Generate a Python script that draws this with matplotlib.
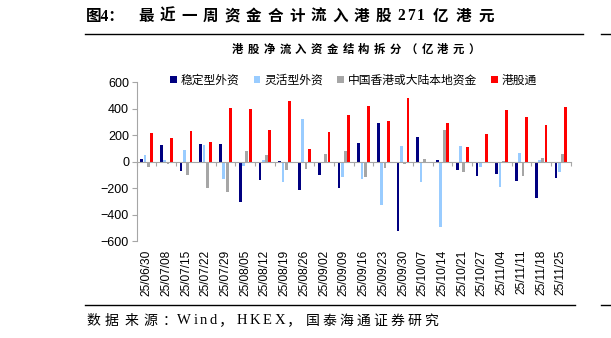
import numpy as np
import matplotlib.pyplot as plt
from matplotlib.lines import Line2D

plt.rcParams['font.family'] = ['Liberation Sans', 'Noto Sans CJK SC']

# 每周港股净流入资金（亿港元）
weeks = ['25/06/30', '25/07/08', '25/07/15', '25/07/22', '25/07/29', '25/08/05',
         '25/08/12', '25/08/19', '25/08/26', '25/09/02', '25/09/09', '25/09/16',
         '25/09/23', '25/09/30', '25/10/07', '25/10/14', '25/10/21', '25/10/27',
         '25/11/04', '25/11/11', '25/11/18', '25/11/25']
stable_foreign = [23, 129, -71, 132, 137, -304, -142, 8, -215, -101, -200, 142,
                  293, -521, 187, 13, -63, -111, -96, -144, -273, -126]
flexible_foreign = [48, 15, 86, 127, -134, -33, 13, -157, 319, -3, -114, -134,
                    -331, 121, -152, -496, 116, -43, -195, 66, 10, -78]
local_funds = [-38, -20, -104, -197, -230, 78, 53, -66, -58, 56, 83, -119,
               -51, -18, 20, 243, -76, -2, 8, -111, 30, 58]
southbound = [218, 182, 228, 152, 402, 400, 240, 455, 96, 223, 349, 420,
              304, 481, 0, 293, 111, 207, 387, 334, 276, 417]

series_names = ['稳定型外资', '灵活型外资', '中国香港或大陆本地资金', '港股通']
series_colors = ['#000080', '#99CCFF', '#A6A6A6', '#FF0000']

W, H = 611, 338
fig = plt.figure(figsize=(W / 100, H / 100), dpi=100)
ax = fig.add_axes([136.7 / W, (H - 241) / H, 434 / W, 158.7 / H])

x = np.arange(len(weeks))
step, width = 0.167, 0.14
all_series = [stable_foreign, flexible_foreign, local_funds, southbound]
for k, vals in enumerate(all_series):
    ax.bar(x + (k - 1.5) * step, vals, width, color=series_colors[k],
           label=series_names[k])

ax.set_xlim(-0.5, len(weeks) - 0.5)
ax.set_ylim(-600, 600)
ax.set_yticks(range(-600, 601, 200))

# 坐标轴样式
axis_gray = '#A6A6A6'
for side in ['top', 'right']:
    ax.spines[side].set_visible(False)
ax.spines['left'].set_color(axis_gray)
ax.spines['bottom'].set_color(axis_gray)
ax.spines['bottom'].set_position(('data', 0))
ax.tick_params(axis='y', direction='out', length=3.5, width=0.8,
               color=axis_gray, labelsize=9, pad=2)
ax.set_xticks(np.arange(-0.5, len(weeks), 1), minor=True)
ax.tick_params(axis='x', which='major', length=0, labelbottom=False)
ax.tick_params(axis='x', which='minor', direction='out', length=3,
               width=0.8, color=axis_gray)

# 日期标签放在图底部
sec = ax.secondary_xaxis('bottom')
sec.set_xticks(x, weeks)
sec.tick_params(length=0, pad=6, labelrotation=90, labelsize=8.6)
sec.spines['bottom'].set_visible(False)

ax.legend(loc='center', bbox_to_anchor=(0.5, 1.0145), ncol=4, frameon=False,
          prop={'family': 'Noto Sans CJK SC', 'size': 8.5},
          handlelength=0.55, handleheight=0.55, handletextpad=0.35,
          columnspacing=1.2, borderaxespad=0)

serif_cjk = ['Liberation Serif', 'Noto Sans CJK SC']


def spread_text(s, x0, x1, baseline, size, weight='normal'):
    # 逐字排版，把一段文字均匀铺满 x0 到 x1（像素）
    r = fig.canvas.get_renderer()
    texts = [fig.text(0, 1 - baseline / H, ch, ha='left', va='baseline',
                      fontsize=size, fontweight=weight, family=serif_cjk)
             for ch in s]
    widths = [t.get_window_extent(r).width for t in texts]
    gap = (x1 - x0 - sum(widths)) / (len(s) - 1) if len(s) > 1 else 0
    pos = x0
    for t, w in zip(texts, widths):
        t.set_x(pos / W)
        pos += w + gap


# 标题
fig.text(86 / W, 1 - 20.5 / H, '图4：', ha='left', va='baseline',
         fontsize=11.2, fontweight='bold', family=serif_cjk)
spread_text('最近一周资金合计流入港股', 138, 391, 20.5, 11.2, 'bold')
spread_text('271', 397, 425, 20.5, 11.2, 'bold')
spread_text('亿港元', 433, 494, 20.5, 11.2, 'bold')

# 副标题
spread_text('港股净流入资金结构拆分（亿港元）', 232, 480, 53, 8.2, 'bold')

# 数据来源
spread_text('数据来源：', 86, 176, 324.5, 10)
spread_text('Wind，HKEX，', 177, 302, 324.5, 10.5)
spread_text('国泰海通证券研究', 306, 438, 324.5, 10)

fig.add_artist(Line2D([85 / W, 583 / W], [1 - 34.3 / H] * 2, color='black', lw=1.0))
fig.add_artist(Line2D([85 / W, 575 / W], [1 - 305 / H] * 2, color='black', lw=1.0))
fig.add_artist(Line2D([601 / W, 1], [1 - 34.3 / H] * 2, color='black', lw=1.0))
fig.add_artist(Line2D([601 / W, 1], [1 - 305 / H] * 2, color='black', lw=1.0))

fig.savefig('out.png', dpi=100)
